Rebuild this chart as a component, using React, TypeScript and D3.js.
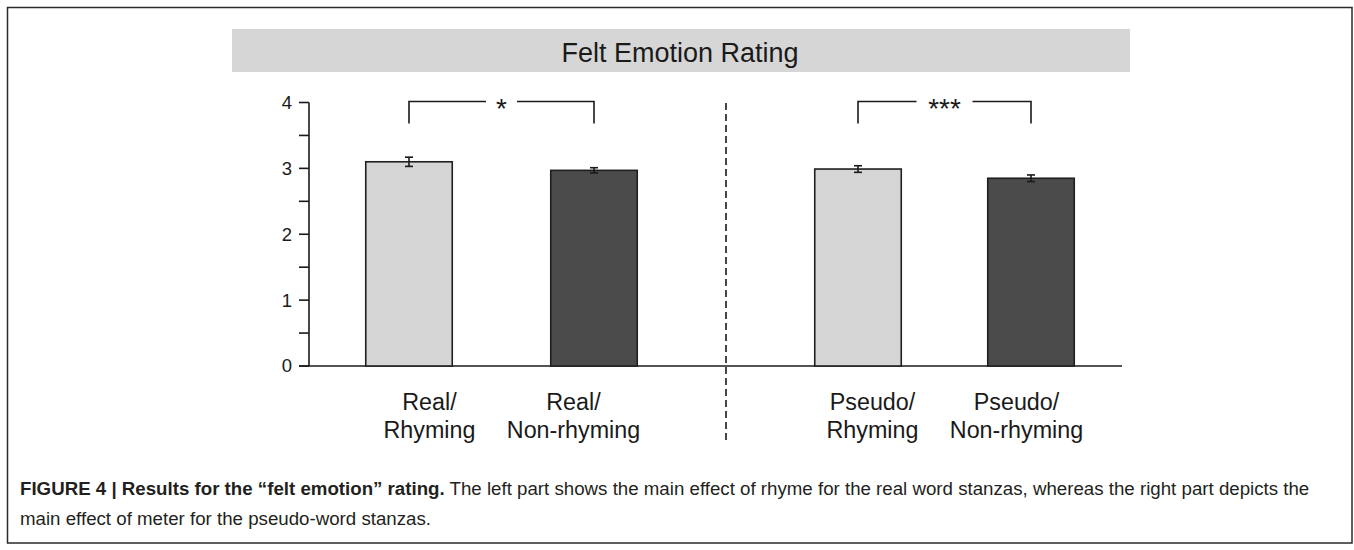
import React, { useEffect, useRef } from "react";
import * as d3 from "d3";

const groups = ["Real", "Pseudo"];
const conditions = ["Rhyming", "Non-rhyming"];
const values = [3.1, 2.97, 2.99, 2.85];
const errors = [0.07, 0.04, 0.05, 0.05];
const barColors = ["#d5d5d5", "#4b4b4b"];
const yTicks = [0, 1, 2, 3, 4];
const yMinorTicks = [0.5, 1.5, 2.5, 3.5];
const significance = ["*", "***"];
const title = "Felt Emotion Rating";
const captionBold = "FIGURE 4 | Results for the \u201cfelt emotion\u201d rating.";
const captionLine1 = " The left part shows the main effect of rhyme for the real word stanzas, whereas the right part depicts the";
const captionLine2 = "main effect of meter for the pseudo-word stanzas.";

const W = 1354;
const H = 550;
const FONT = "'Liberation Sans', Arial, Helvetica, sans-serif";

export default function App() {
  const ref = useRef<SVGSVGElement>(null);

  useEffect(() => {
    const svg = d3.select(ref.current);
    svg.selectAll("*").remove();

    const y = d3.scaleLinear().domain([0, 4]).range([366, 102.5]);
    const gx = d3.scalePoint().domain(groups).range([501.5, 944.5]);
    const spread: Record<string, number> = { Real: 185, Pseudo: 173 };
    const inner = (g: string) =>
      d3.scalePoint().domain(conditions).range([gx(g)! - spread[g] / 2, gx(g)! + spread[g] / 2]);
    const barW = 86.5;

    // outer frame
    svg.append("rect").attr("x", 7.5).attr("y", 7.5).attr("width", 1344.5).attr("height", 535.5)
      .attr("fill", "none").attr("stroke", "#2a2a2a").attr("stroke-width", 1.5);

    // title band
    svg.append("rect").attr("x", 232).attr("y", 29).attr("width", 898).attr("height", 43).attr("fill", "#d6d6d6");
    svg.append("text").attr("x", 680).attr("y", 62).attr("text-anchor", "middle")
      .attr("font-family", FONT).attr("font-size", 27).attr("fill", "#1a1a1a").text(title);

    // y axis
    const axisX = 309;
    const ax = svg.append("g");
    ax.append("line").attr("x1", axisX).attr("x2", axisX).attr("y1", y(4)).attr("y2", y(0))
      .attr("stroke", "#1a1a1a").attr("stroke-width", 1.6);
    ax.append("line").attr("x1", 299).attr("x2", 1122).attr("y1", y(0)).attr("y2", y(0))
      .attr("stroke", "#1a1a1a").attr("stroke-width", 1.6);
    [...yTicks, ...yMinorTicks].forEach((t) => {
      ax.append("line").attr("x1", 299).attr("x2", axisX).attr("y1", y(t)).attr("y2", y(t))
        .attr("stroke", "#1a1a1a").attr("stroke-width", 1.6);
    });
    yTicks.forEach((t) => {
      ax.append("text").attr("x", 292).attr("y", y(t)).attr("dy", "0.35em").attr("text-anchor", "end")
        .attr("font-family", FONT).attr("font-size", 18.5).attr("fill", "#1a1a1a").text(String(t));
    });

    // bars
    groups.forEach((g, gi) => {
      const sx = inner(g);
      conditions.forEach((c, ci) => {
        const i = gi * conditions.length + ci;
        const cx = sx(c)!;
        svg.append("rect").attr("x", cx - barW / 2).attr("y", y(values[i])).attr("width", barW)
          .attr("height", y(0) - y(values[i])).attr("fill", barColors[ci])
          .attr("stroke", "#1f1f1f").attr("stroke-width", 1.6);
        const e = svg.append("g").attr("stroke", "#1a1a1a").attr("stroke-width", 1.6);
        e.append("line").attr("x1", cx).attr("x2", cx).attr("y1", y(values[i] + errors[i])).attr("y2", y(values[i] - errors[i]));
        e.append("line").attr("x1", cx - 4).attr("x2", cx + 4).attr("y1", y(values[i] + errors[i])).attr("y2", y(values[i] + errors[i]));
        e.append("line").attr("x1", cx - 4).attr("x2", cx + 4).attr("y1", y(values[i] - errors[i])).attr("y2", y(values[i] - errors[i]));
      });

      // labels
      const labelOffset = 72;
      conditions.forEach((c, ci) => {
        const lx = gx(g)! + (ci === 0 ? -labelOffset : labelOffset);
        const t = svg.append("text").attr("text-anchor", "middle").attr("font-family", FONT)
          .attr("font-size", 23.3).attr("fill", "#1a1a1a");
        t.append("tspan").attr("x", lx).attr("y", 410).text(g + "/");
        t.append("tspan").attr("x", lx).attr("y", 438).text(c);
      });

      // significance bracket
      const x1 = sx(conditions[0])!;
      const x2 = sx(conditions[1])!;
      const mid = (x1 + x2) / 2;
      const gap = significance[gi].length === 1 ? 15.5 : 28;
      const top = y(4) - 1;
      const bottom = y(3.68);
      svg.append("path")
        .attr("d", `M${x1},${bottom}V${top}H${mid - gap}M${mid + gap},${top}H${x2}V${bottom}`)
        .attr("fill", "none").attr("stroke", "#1a1a1a").attr("stroke-width", 1.6);
      svg.append("text").attr("x", mid).attr("y", top + 16.5).attr("text-anchor", "middle")
        .attr("font-family", FONT).attr("font-size", 28).attr("fill", "#1a1a1a")
        .text(significance[gi]);
    });

    // divider
    const divX = (inner("Real")("Non-rhyming")! + inner("Pseudo")("Rhyming")!) / 2;
    svg.append("line").attr("x1", divX).attr("x2", divX).attr("y1", 103).attr("y2", 442)
      .attr("stroke", "#1a1a1a").attr("stroke-width", 1.6).attr("stroke-dasharray", "7,4");

    // caption
    const cap = svg.append("text").attr("font-family", FONT).attr("font-size", 18.7).attr("fill", "#231f20");
    const l1 = cap.append("tspan").attr("x", 20).attr("y", 495);
    l1.append("tspan").attr("font-weight", "bold").text(captionBold);
    l1.append("tspan").text(captionLine1);
    cap.append("tspan").attr("x", 20).attr("y", 525).text(captionLine2);
  }, []);

  return (
    <svg ref={ref} width={W} height={H}
      style={{ position: "absolute", left: 0, top: 0, background: "#fff" }} />
  );
}
